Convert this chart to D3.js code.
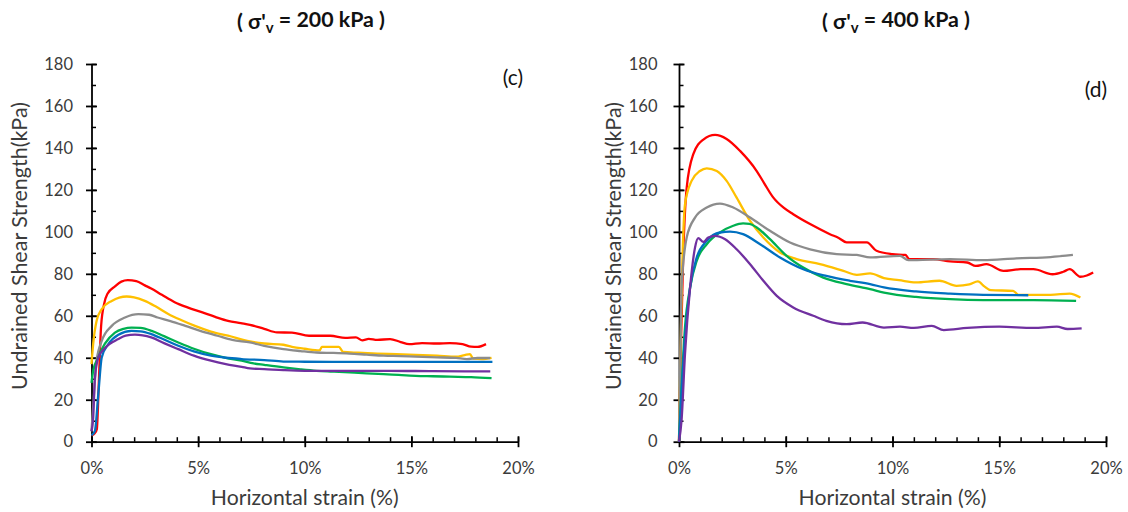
<!DOCTYPE html>
<html>
<head>
<meta charset="utf-8">
<script src="https://cdn.jsdelivr.net/npm/d3@7"></script>
<style>
  html, body { margin: 0; padding: 0; background: #fff; }
  svg { display: block; font-family: Lato, "Open Sans", sans-serif; }
</style>
</head>
<body>
<svg id="chart" width="1128" height="512"></svg>
<script>
// ---------- data (strain %, undrained shear strength kPa) ----------
const yTicks = [0, 20, 40, 60, 80, 100, 120, 140, 160, 180];
const xTicks = [0, 5, 10, 15, 20];
const seriesColors = ["#FF0000", "#FFC000", "#8C8C8C", "#00B050", "#0070C0", "#7030A0"];
const panelTitles = ["200", "400"];
const panelTags = ["(c)", "(d)"];

// panel (c): σ'v = 200 kPa
const c_red = [[0,3],[0.15,4],[0.25,6],[0.35,30],[0.45,55],[0.6,66],[0.75,70.5],[1.1,74],[1.4,76.3],[1.7,77],[2.1,76.5],[2.5,74.5],[2.8,73],[3.3,70],[3.9,66.5],[4.5,64],[5.2,61.6],[5.8,59.5],[6.4,57.6],[7.0,56.5],[7.43,55.7],[8.1,53.8],[8.7,52.1],[9.4,52],[10.2,50.5],[11.2,50.5],[11.9,49.5],[12.4,49.7],[12.7,48.3],[13.0,49],[13.4,48.5],[14.0,48.9],[14.5,47.5],[14.9,46.5],[15.5,47],[16.2,46.8],[16.8,47],[17.4,46.5],[17.8,45.3],[18.1,45.2],[18.5,46.5]];
const c_yellow = [[0,37],[0.08,46.7],[0.24,57.6],[0.48,63.2],[0.95,67.1],[1.3,68.7],[1.65,69.2],[2.0,68.8],[2.5,67.1],[3.0,64.5],[3.6,60.9],[4.2,58],[4.85,55.2],[5.6,52.5],[6.4,50.5],[7.43,47.8],[8.1,46.8],[9.0,46.2],[9.4,45.2],[10.0,44.3],[10.7,43.5],[10.8,45.2],[11.6,45.2],[11.8,42.8],[12.5,42.4],[13.4,42],[14.3,41.7],[15.2,41.4],[16.2,41],[17.1,40.5],[17.5,41.3],[17.75,41.7],[17.9,39.6],[18.3,39.4],[18.76,40]];
const c_gray = [[0,5],[0.1,20],[0.24,38.6],[0.48,48],[0.95,55.2],[1.57,59.2],[2.2,60.8],[2.7,60.5],[3.1,59.2],[3.7,57.5],[4.4,55.2],[5.1,52.8],[5.9,50.5],[6.6,48.5],[7.43,47.3],[8.1,45.7],[9.0,44.1],[9.8,43.2],[10.55,42.5],[11.3,42.3],[12.1,42],[12.9,41.5],[13.7,41],[14.5,40.8],[15.2,40.5],[16.2,40.2],[17.1,39.9],[17.6,39.4],[18.1,39.9],[18.7,39.9]];
const c_green = [[0,28],[0.08,33.8],[0.32,40.2],[0.63,46.7],[1.1,52],[1.5,53.8],[1.88,54.4],[2.3,54.2],[2.82,52.8],[3.4,50.3],[4.07,47.3],[4.8,44.3],[5.6,41.7],[6.3,40],[7.04,38.6],[7.6,37.3],[8.1,36.6],[9.0,35.4],[9.8,34.5],[10.55,33.8],[11.3,33.4],[12.1,33.0],[12.9,32.6],[13.7,32.2],[14.4,31.8],[15.2,31.4],[16.0,31.2],[16.8,31],[17.8,30.8],[18.76,30.3]];
const c_blue = [[0,3],[0.16,5.2],[0.32,22.8],[0.48,40.2],[0.79,46.5],[1.26,51],[1.88,52.8],[2.3,52.6],[2.8,51.3],[3.4,48.7],[4.07,45.7],[4.8,43],[5.6,41],[6.3,40],[7.04,39.4],[8.1,38.9],[9.0,38.2],[10,38.1],[12,38],[14,38],[16,38],[18.8,38]];
const c_purple = [[0,5],[0.08,11.6],[0.16,30.6],[0.32,40.2],[0.63,44.6],[1.26,48.9],[1.6,50.5],[2.04,51],[2.4,50.7],[2.8,49.7],[3.4,47],[4.07,44.1],[4.8,41],[5.6,38.6],[6.3,37],[7.04,35.7],[7.43,34.9],[8.1,34.6],[9.0,34.1],[10,33.8],[12,33.8],[14,33.8],[16,33.6],[18.7,33.5]];

// panel (d): σ'v = 400 kPa
const d_red = [[0,0],[0.1,50],[0.2,89.5],[0.36,121],[0.67,137],[1.14,144],[1.69,146.2],[2.23,144.3],[2.86,138.6],[3.64,129],[4.0,123],[4.42,116.3],[4.9,111.5],[5.35,108.4],[6.14,103.7],[7.07,98.9],[7.5,97],[7.85,95],[8.8,95],[9.25,91],[10.0,89.4],[10.6,89],[10.8,87],[11.9,87],[12.7,85.9],[13.5,85.4],[13.9,83.8],[14.4,84.6],[15.2,81.4],[16.0,82.2],[16.6,82.2],[17.5,79.8],[18.0,81],[18.3,82.2],[18.8,78.6],[19.1,79.2],[19.4,80.6]];
const d_yellow = [[0,0],[0.1,60],[0.28,113],[0.59,124.3],[0.98,129],[1.3,130.3],[1.77,129],[2.23,124.3],[2.7,116.3],[3.33,105.2],[3.95,97.3],[4.73,90.2],[5.51,87],[6.6,84.6],[7.7,81.4],[8.33,79.5],[8.95,80.2],[9.6,78],[10.3,77],[11.1,75.9],[12.2,76.7],[13.0,74.3],[13.6,75],[14.0,76.4],[14.3,74],[14.6,72.2],[15.65,71.9],[15.9,70],[17.4,70],[18.3,70.6],[18.8,68.7]];
const d_gray = [[0,0],[0.05,30],[0.12,73.5],[0.36,97.3],[0.75,106.8],[1.3,111.6],[1.92,113.5],[2.54,111.6],[3.33,106.8],[4.26,100.5],[5.2,94.9],[6.14,91.7],[7.39,89.4],[8.33,89],[8.95,87.8],[10.35,88.6],[10.74,86.5],[12.7,87],[14.25,86.5],[15.8,87.4],[17.4,88],[18.45,89]];
const d_green = [[0,0],[0.12,25.9],[0.28,54.4],[0.52,73.5],[0.83,86.2],[1.3,94.1],[1.92,99.7],[2.54,102.9],[3.0,104],[3.3,103.8],[3.64,102.1],[4.26,96.5],[5.04,88.6],[5.82,83],[6.76,78.2],[7.85,75.1],[8.95,72.7],[9.6,71.1],[11.1,69],[12.7,67.9],[14.25,67.5],[16.6,67.5],[18.6,67.1]];
const d_blue = [[0,0],[0.05,10],[0.28,49.7],[0.52,73.5],[0.83,87.8],[1.3,95.7],[1.92,99.7],[2.39,100.1],[3.0,98.9],[3.8,94.1],[4.73,87.8],[5.82,82.2],[6.9,79],[8.0,76.7],[8.95,75.1],[9.6,73.5],[11.1,71.6],[12.7,70.6],[14.25,70],[16.36,69.8]];
const d_purple = [[0,0],[0.12,10.3],[0.28,41.7],[0.52,73.5],[0.75,92.5],[0.9,97],[1.14,95.2],[1.37,97.3],[1.69,98.1],[2.16,96.5],[2.7,91.7],[3.33,84.6],[3.95,76.7],[4.58,69.5],[5.35,64],[6.29,60],[6.9,57.6],[7.85,56],[8.6,56.8],[9.6,54.4],[10.35,54.8],[11.0,54.2],[11.84,55.2],[12.4,53.2],[13.5,54.2],[15.0,54.8],[16.6,54.2],[17.7,54.8],[18.2,53.7],[18.86,54]];

const panelSeries = [
  [c_red, c_yellow, c_gray, c_green, c_blue, c_purple],
  [d_red, d_yellow, d_gray, d_green, d_blue, d_purple]
];

// ---------- layout ----------
const svg = d3.select("#chart");
const panels = [
  { left: 91.5, right: 518, titleX: 311, tagX: 513, tagY: 85, yLabelX: 27, yPad: 13 },
  { left: 679, right: 1106, titleX: 896, tagX: 1096, tagY: 97, yLabelX: 621, yPad: 16 }
];
const plotTop = 64, plotBottom = 441.7;
const tickColor = "#3b3b3b";

// scale a text's font so that its rendered length matches a target width
function fitText(sel, target) {
  const fs = parseFloat(sel.attr("font-size"));
  const w = sel.node().getComputedTextLength();
  if (w > 0) sel.attr("font-size", (fs * target / w).toFixed(2));
}

panels.forEach((p, i) => {
  const x = d3.scaleLinear().domain([0, 20]).range([p.left, p.right]);
  const y = d3.scaleLinear().domain([0, 180]).range([plotBottom, plotTop]);
  const g = svg.append("g");

  // minor ticks (inside)
  const xMinor = d3.axisBottom(x).tickValues(d3.range(0, 20.01, 1)).tickSizeInner(-4.5).tickSizeOuter(0).tickFormat("");
  g.append("g").attr("transform", `translate(0,${plotBottom})`).call(xMinor)
    .call(a => a.select(".domain").remove())
    .selectAll("line").attr("stroke", "#000").attr("stroke-width", 1.5);
  const yMinor = d3.axisLeft(y).tickValues(d3.range(0, 180.01, 10)).tickSizeInner(-4.5).tickSizeOuter(0).tickFormat("");
  g.append("g").attr("transform", `translate(${p.left},0)`).call(yMinor)
    .call(a => a.select(".domain").remove())
    .selectAll("line").attr("stroke", "#000").attr("stroke-width", 1.5);

  // major axes
  const xAxis = d3.axisBottom(x).tickValues(xTicks).tickSizeInner(5.5).tickSizeOuter(0).tickPadding(15)
    .tickFormat(d => d + "%");
  const gx = g.append("g").attr("transform", `translate(0,${plotBottom})`).call(xAxis);
  gx.select(".domain").attr("stroke", "#000").attr("stroke-width", 1.8);
  gx.selectAll(".tick line").attr("y1", -5.5).attr("stroke", "#000").attr("stroke-width", 1.8);
  gx.selectAll("text").attr("fill", tickColor).attr("font-size", 16.5).attr("font-family", "Lato");

  const yAxis = d3.axisLeft(y).tickValues(yTicks).tickSizeInner(5.5).tickSizeOuter(0).tickPadding(p.yPad);
  const gy = g.append("g").attr("transform", `translate(${p.left},0)`).call(yAxis);
  gy.select(".domain").attr("stroke", "#000").attr("stroke-width", 1.8);
  gy.selectAll(".tick line").attr("x1", 5.5).attr("stroke", "#000").attr("stroke-width", 1.8);
  gy.selectAll("text").attr("fill", tickColor).attr("font-size", 16.5).attr("font-family", "Lato");

  // series
  const line = d3.line().x(d => x(d[0])).y(d => y(d[1])).curve(d3.curveMonotoneX);
  panelSeries[i].forEach((s, k) => {
    g.append("path").datum(s)
      .attr("fill", "none")
      .attr("stroke", seriesColors[k])
      .attr("stroke-width", 2.3)
      .attr("stroke-linejoin", "round")
      .attr("d", line);
  });

  // axis titles
  const xt = g.append("text")
    .attr("x", (p.left + p.right) / 2).attr("y", 505)
    .attr("text-anchor", "middle").attr("fill", tickColor)
    .attr("font-size", 20).attr("font-family", "Lato")
    .text("Horizontal strain (%)");
  fitText(xt, 188);
  const yt = g.append("text")
    .attr("transform", `translate(${p.yLabelX},246) rotate(-90)`)
    .attr("text-anchor", "middle").attr("fill", tickColor)
    .attr("font-size", 20).attr("font-family", "Lato")
    .text("Undrained Shear Strength(kPa)");
  fitText(yt, 288);

  // panel title
  const t = g.append("text")
    .attr("x", p.titleX).attr("y", 28.5)
    .attr("text-anchor", "middle").attr("fill", "#111")
    .attr("font-size", 20).attr("font-weight", "bold").attr("font-family", "Lato");
  t.append("tspan").text("( σ'");
  t.append("tspan").attr("font-size", "70%").attr("dy", "0.3em").text("v");
  t.append("tspan").attr("dy", "-0.3em").text(` = ${panelTitles[i]} kPa )`);
  fitText(t, 148);

  // panel tag
  g.append("text")
    .attr("x", p.tagX).attr("y", p.tagY)
    .attr("text-anchor", "middle").attr("fill", "#111")
    .attr("font-size", 21).attr("font-family", "Lato")
    .text(panelTags[i]);
});
</script>
</body>
</html>
